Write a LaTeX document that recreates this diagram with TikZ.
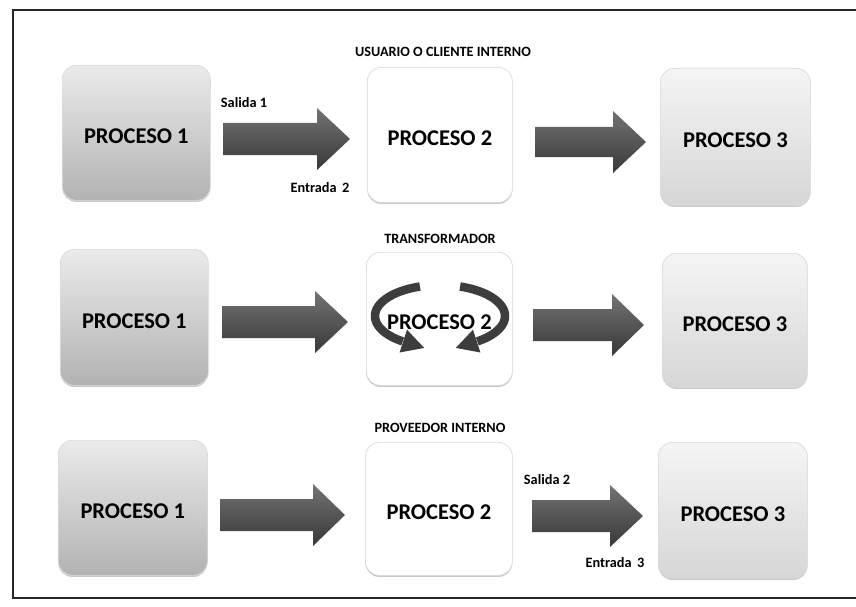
\documentclass[tikz,border=0pt]{standalone}
\usepackage{fontspec}
\setmainfont{Carlito}
\usetikzlibrary{shadows}
\begin{document}
\begin{tikzpicture}[x=1pt,y=-1pt,
  box/.style={rectangle, rounded corners=14pt, draw=black!14, line width=0.7pt,
    anchor=north west, inner sep=0pt, text height=22pt,
    drop shadow={opacity=0.35, shadow xshift=0pt, shadow yshift=-1.6pt, fill=black!60},
    font=\bfseries\fontsize{22.5}{26}\selectfont},
  pone/.style={box, top color=black!8, bottom color=black!30},
  ptwo/.style={box, fill=white},
  pthree/.style={box, top color=black!4, bottom color=black!16},
  role/.style={font=\bfseries\fontsize{14.2}{16}\selectfont, inner sep=1pt},
  flowlabel/.style={font=\bfseries\fontsize{14.3}{16}\selectfont, inner sep=1pt},
  blockarrow/.style={top color=black!55, bottom color=black!78},
  cyclearrow/.style={black!76}
]
% page and frame
\useasboundingbox (0,0) rectangle (856,607);
\fill[white] (0,0) rectangle (856,607);
\draw[line width=1.4pt, black!85] (856,10) -- (13,10) -- (13,598) -- (856,598);

% block arrow: shaft start, head start, tip, centre line, shaft half width, head half width
\newcommand\flowarrow[6]{%
  \shade[blockarrow] (#1,#4-#5) -- (#2,#4-#5) -- (#2,#4-#6) -- (#3,#4)
    -- (#2,#4+#6) -- (#2,#4+#5) -- (#1,#4+#5) -- cycle;}

% row 1: internal customer
\node[role] (rol1) at (443,52) {USUARIO O CLIENTE INTERNO};
\node[pone,   minimum width=148pt, minimum height=135pt] (a1) at (62,65)  {PROCESO 1};
\node[ptwo,   minimum width=145pt, minimum height=135pt] (a2) at (367,67) {PROCESO 2};
\node[pthree, minimum width=150pt, minimum height=137pt] (a3) at (660,68) {PROCESO 3};
\flowarrow{223}{317}{350}{139}{16}{31}
\flowarrow{535}{613}{646}{142}{15}{31}
\node[flowlabel] (s1) at (244,103) {Salida 1};
\node[flowlabel] (e2) at (320,188) {Entrada\, 2};

% row 2: transformer
\node[role] (rol2) at (440,239) {TRANSFORMADOR};
\node[pone,   minimum width=148pt, minimum height=136pt] (b1) at (60,249)  {PROCESO 1};
\node[ptwo,   minimum width=146pt, minimum height=133pt] (b2) at (366,252) {PROCESO 2};
\node[pthree, minimum width=145pt, minimum height=134pt] (b3) at (662,253) {PROCESO 3};
\flowarrow{222}{315}{348}{322}{16}{31}
\flowarrow{533}{612}{644}{325}{16}{31}
% cycle arrows around the transformer
\draw[cyclearrow, line width=8.5pt] plot[domain=108:235, samples=50]
  ({440+65*cos(\x)},{316-31*sin(\x)});
\fill[cyclearrow] (399.6,352.5) -- (424.2,347.9) -- (407.0,329.7) -- cycle;
\draw[cyclearrow, line width=8.5pt] plot[domain=-55:72, samples=50]
  ({440+65*cos(\x)},{316-31*sin(\x)});
\fill[cyclearrow] (480.4,352.5) -- (455.8,347.9) -- (473.0,329.7) -- cycle;

% row 3: internal supplier
\node[role] (rol3) at (440,428) {PROVEEDOR INTERNO};
\node[pone,   minimum width=149pt, minimum height=135pt] (c1) at (58,440)  {PROCESO 1};
\node[ptwo,   minimum width=147pt, minimum height=133pt] (c2) at (365,442) {PROCESO 2};
\node[pthree, minimum width=149pt, minimum height=136pt] (c3) at (658,442) {PROCESO 3};
\flowarrow{220}{313}{345}{515}{16}{31}
\flowarrow{532}{610}{643}{516}{16}{31}
\node[flowlabel] (s2) at (547,480) {Salida 2};
\node[flowlabel] (e3) at (615,563) {Entrada\, 3};
\end{tikzpicture}
\end{document}
